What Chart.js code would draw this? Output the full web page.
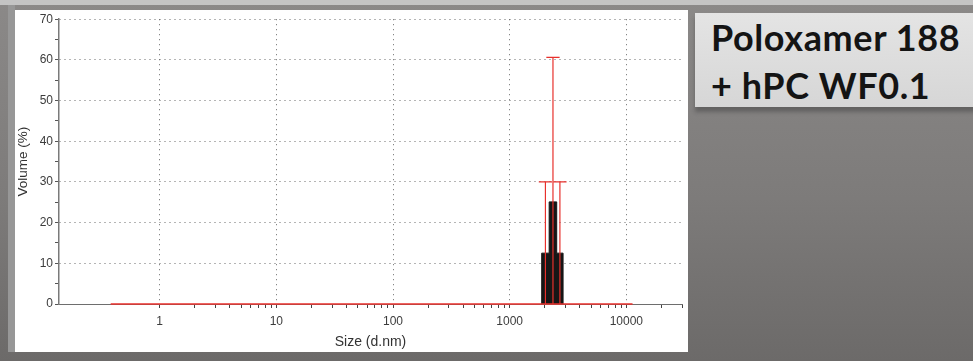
<!DOCTYPE html>
<html>
<head>
<meta charset="utf-8">
<script src="https://cdn.jsdelivr.net/npm/chart.js@4.4.1/dist/chart.umd.min.js"></script>
<style>
  html, body { margin: 0; padding: 0; }
  body {
    width: 973px; height: 361px; position: relative; overflow: hidden;
    background: linear-gradient(180deg, #8b8988 0%, #7d7b7a 55%, #6c6a69 100%);
  }
  #topStrip { position: absolute; left: 0; top: 0; width: 973px; height: 5px; background: #c4c4c4; }
  #leftStrip { position: absolute; left: 8px; top: 5px; width: 7px; height: 347px; background: #979797; }
  #panel { position: absolute; left: 15px; top: 10px; width: 673px; height: 342px; background: #fff; }
  #label {
    position: absolute; left: 695px; top: 13px; width: 290px; height: 94px;
    background: linear-gradient(180deg, #e4e4e4 0%, #d6d6d6 100%);
    box-shadow: 0 5px 4px rgba(60,60,60,0.45);
    font-family: Lato, "Open Sans", sans-serif; font-weight: bold;
    font-size: 36px; line-height: 48px; letter-spacing: 0.6px; color: #141414;
    padding-left: 16px; box-sizing: border-box; padding-top: 0px;
  }
  canvas { position: absolute; left: 15px; top: 10px; }
</style>
</head>
<body>
<div id="topStrip"></div>
<div id="leftStrip"></div>
<div id="panel"></div>
<div id="label">Poloxamer 188<br>+ hPC WF0.1</div>
<canvas id="chart" width="673" height="342"></canvas>
<script>
// size classes (d.nm), bin edges of the peak
const binEdges = [1880, 2180, 2530, 2870];
const volume = [12.5, 25.1, 12.5];
// red error bars: bin centre and upper value
const errCenters = [2025, 2350, 2695];
const errTops = [30.0, 60.6, 30.0];
// red zero trace across the measured range
const measuredRange = [0.38, 11300];

const xTicks = [1, 2, 3, 4, 5, 6, 7, 8, 9,
  10, 20, 30, 40, 50, 60, 70, 80, 90,
  100, 200, 300, 400, 500, 600, 700, 800, 900,
  1000, 2000, 3000, 4000, 5000, 6000, 7000, 8000, 9000,
  10000, 20000, 30000];
const xLabels = [1, 10, 100, 1000, 10000];
const yTicks = [0, 5, 10, 15, 20, 25, 30, 35, 40, 45, 50, 55, 60, 65, 70];
const yLabels = [0, 10, 20, 30, 40, 50, 60, 70];

const RED = "#e8302c";
const CAP = 1.14;

// histogram outline as a stepped polygon
const histPts = [{ x: binEdges[0], y: 0 }];
volume.forEach((v, i) => histPts.push({ x: binEdges[i], y: v }));
histPts.push({ x: binEdges[binEdges.length - 1], y: 0 });

const datasets = [{
  data: histPts,
  stepped: true,
  fill: "origin",
  backgroundColor: "#161616",
  borderColor: "#161616",
  borderWidth: 1,
  pointRadius: 0,
  order: 3
}, {
  data: measuredRange.map(x => ({ x: x, y: 0 })),
  borderColor: RED,
  borderWidth: 1.4,
  pointRadius: 0,
  clip: 6,
  order: 1
}];

errCenters.forEach((c, i) => {
  datasets.push({
    data: [
      { x: c, y: 0 }, { x: c, y: errTops[i] },
      { x: c / CAP, y: errTops[i] }, { x: c * CAP, y: errTops[i] }
    ],
    borderColor: RED,
    borderWidth: 1.2,
    pointRadius: 0,
    clip: 6,
    order: 1
  });
});

const font = { family: "'Liberation Sans', Arial, sans-serif", size: 12 };

new Chart(document.getElementById("chart"), {
  type: "line",
  data: { datasets: datasets },
  options: {
    responsive: false,
    animation: false,
    layout: { padding: { top: 8, right: 6, left: 0, bottom: 0 } },
    plugins: { legend: { display: false }, tooltip: { enabled: false } },
    scales: {
      x: {
        type: "logarithmic",
        min: 0.137,
        max: 30000,
        afterBuildTicks: s => { s.ticks = xTicks.map(v => ({ value: v })); },
        afterFit: s => { s.height = 48; },
        ticks: {
          autoSkip: false, maxRotation: 0, padding: 6,
          color: "#3c3c3c", font: font,
          callback: v => xLabels.includes(v) ? String(v) : ""
        },
        grid: {
          color: c => xLabels.includes(c.tick && c.tick.value) ? "#6a6a6a" : "rgba(0,0,0,0)",
          tickColor: "#444",
          tickLength: 4,
          tickBorderDash: []
        },
        border: { color: "#6e6e6e", width: 1, dash: [1, 4] },
        title: {
          display: true, text: "Size (d.nm)", color: "#333",
          font: { family: font.family, size: 14 },
          padding: { top: 0, bottom: 1 }
        }
      },
      y: {
        type: "linear",
        min: 0,
        max: 70,
        afterBuildTicks: s => { s.ticks = yTicks.map(v => ({ value: v })); },
        afterFit: s => { s.width = 44; },
        ticks: {
          padding: 2, color: "#3c3c3c", font: font,
          callback: v => yLabels.includes(v) ? String(v) : ""
        },
        grid: {
          color: c => (c.tick && c.tick.value > 0 && yLabels.includes(c.tick.value)) ? "#6a6a6a" : "rgba(0,0,0,0)",
          tickColor: "#555",
          tickLength: 4,
          tickBorderDash: []
        },
        border: { color: "#7a7a7a", width: 1.5, dash: [1, 4] },
        title: {
          display: true, text: "Volume (%)", color: "#333",
          font: { family: font.family, size: 13.5 },
          padding: { top: 0, bottom: 0 }
        }
      }
    }
  }
});
</script>
</body>
</html>
